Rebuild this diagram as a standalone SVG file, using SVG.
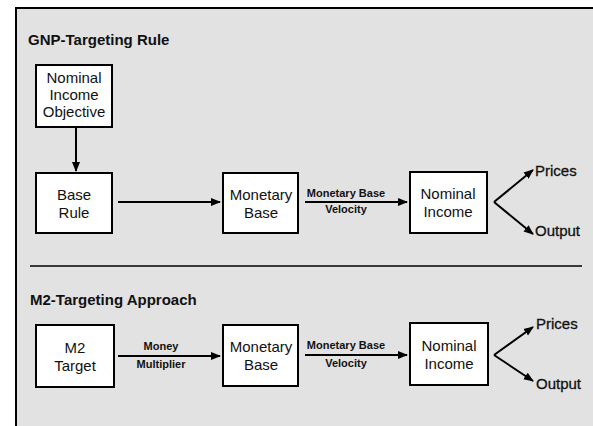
<svg xmlns="http://www.w3.org/2000/svg" width="593" height="426" viewBox="0 0 593 426">
<style>
.box{fill:#fff;stroke:#000;stroke-width:2}
.t{font-family:"Liberation Sans",Arial,sans-serif;font-size:15px;fill:#111;text-anchor:middle}
.h{font-family:"Liberation Sans",Arial,sans-serif;font-size:15px;font-weight:bold;fill:#111}
.s{font-family:"Liberation Sans",Arial,sans-serif;font-size:11px;font-weight:bold;fill:#111;text-anchor:middle}
.o{font-family:"Liberation Sans",Arial,sans-serif;font-size:15px;fill:#111;stroke:#111;stroke-width:0.3}
.c{stroke:#000;stroke-width:2;fill:none}
</style>
<defs>
<marker id="ah" viewBox="0 0 10 10" refX="9" refY="5" markerWidth="5" markerHeight="5" orient="auto" markerUnits="strokeWidth">
<path d="M0,1 L10,5 L0,9 Z" fill="#000"/>
</marker>
</defs>
<rect x="0" y="0" width="593" height="426" fill="#fff"/>
<rect x="16" y="8" width="580" height="420" fill="#e2e2e2"/>
<path d="M16,426 L16,8 L593,8" class="c"/>
<text class="h" x="28" y="45">GNP-Targeting Rule</text>
<line x1="30" y1="266" x2="582" y2="266" stroke="#000" stroke-width="1.5"/>
<text class="h" x="30" y="305">M2-Targeting Approach</text>

<g id="connectors">
<line class="c" x1="76" y1="128" x2="76" y2="171" marker-end="url(#ah)"/>
<line class="c" x1="118" y1="202" x2="220" y2="202" marker-end="url(#ah)"/>
<line class="c" x1="305" y1="202" x2="407" y2="202" marker-end="url(#ah)"/>
<line class="c" x1="494" y1="202" x2="533" y2="170" marker-end="url(#ah)"/>
<line class="c" x1="494" y1="202" x2="533" y2="234" marker-end="url(#ah)"/>
<line class="c" x1="118" y1="356" x2="220" y2="356" marker-end="url(#ah)"/>
<line class="c" x1="305" y1="355" x2="407" y2="355" marker-end="url(#ah)"/>
<line class="c" x1="494" y1="355" x2="533" y2="327" marker-end="url(#ah)"/>
<line class="c" x1="494" y1="355" x2="533" y2="381" marker-end="url(#ah)"/>
<text class="s" x="346" y="197">Monetary Base</text>
<text class="s" x="346" y="213">Velocity</text>
<text class="s" x="161" y="350">Money</text>
<text class="s" x="161" y="368">Multiplier</text>
<text class="s" x="346" y="349">Monetary Base</text>
<text class="s" x="346" y="367">Velocity</text>
</g>

<g id="nominal-income-objective">
<rect class="box" x="36" y="65" width="76" height="62"/>
<text class="t" x="74" y="83">Nominal</text>
<text class="t" x="74" y="100">Income</text>
<text class="t" x="74" y="117">Objective</text>
</g>
<g id="base-rule">
<rect class="box" x="36" y="173" width="76" height="60"/>
<text class="t" x="74" y="200">Base</text>
<text class="t" x="74" y="218">Rule</text>
</g>
<g id="monetary-base-1">
<rect class="box" x="223" y="173" width="75" height="60"/>
<text class="t" x="261" y="200">Monetary</text>
<text class="t" x="261" y="218">Base</text>
</g>
<g id="nominal-income-1">
<rect class="box" x="410" y="172" width="77" height="61"/>
<text class="t" x="448" y="199">Nominal</text>
<text class="t" x="448" y="217">Income</text>
</g>
<g id="prices-1"><text class="o" x="535" y="176">Prices</text></g>
<g id="output-1"><text class="o" x="535" y="236">Output</text></g>

<g id="m2-target">
<rect class="box" x="36" y="325" width="78" height="62"/>
<text class="t" x="75" y="353">M2</text>
<text class="t" x="75" y="371">Target</text>
</g>
<g id="monetary-base-2">
<rect class="box" x="223" y="325" width="75" height="61"/>
<text class="t" x="261" y="352">Monetary</text>
<text class="t" x="261" y="370">Base</text>
</g>
<g id="nominal-income-2">
<rect class="box" x="410" y="323" width="78" height="62"/>
<text class="t" x="449" y="351">Nominal</text>
<text class="t" x="449" y="369">Income</text>
</g>
<g id="prices-2"><text class="o" x="536" y="329">Prices</text></g>
<g id="output-2"><text class="o" x="536" y="389">Output</text></g>
</svg>
